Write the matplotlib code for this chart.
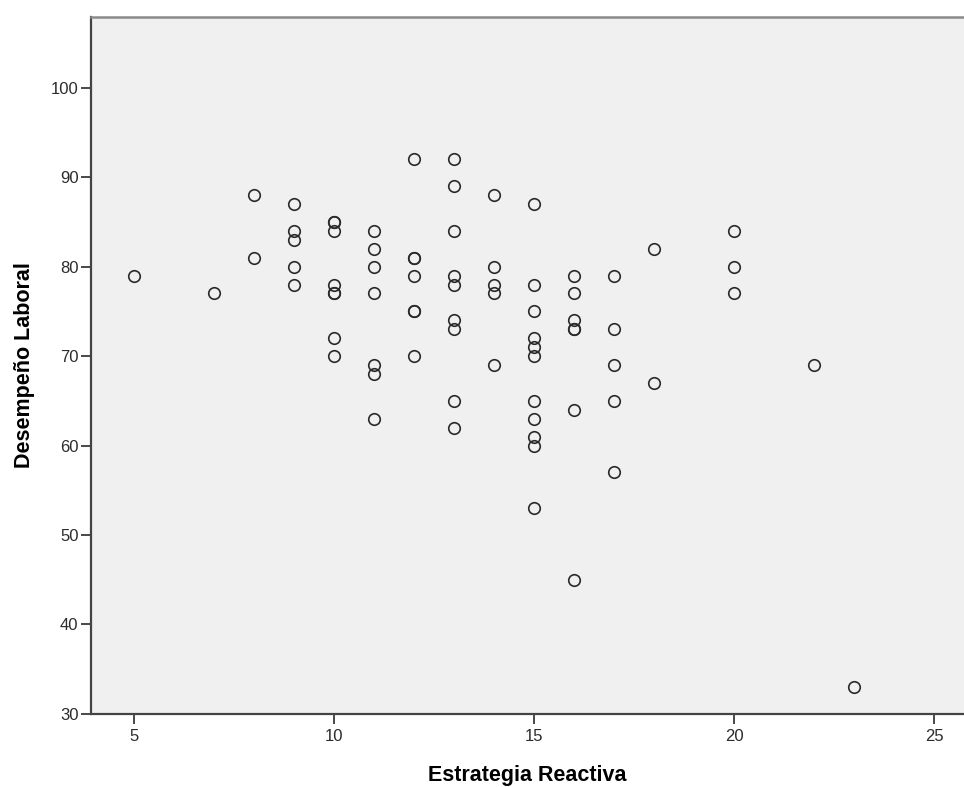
import matplotlib
matplotlib.use('Agg')
import matplotlib.pyplot as plt
import numpy as np

plt.rcParams['font.family'] = ['Liberation Sans', 'DejaVu Sans']

# Estrategia Reactiva (x) vs Desempeño Laboral (y)
estrategia = [5, 7, 8, 8,
              9, 9, 9, 9, 9,
              10, 10, 10, 10, 10, 10, 10, 10,
              11, 11, 11, 11, 11, 11, 11,
              12, 12, 12, 12, 12, 12, 12,
              13, 13, 13, 13, 13, 13, 13, 13, 13,
              14, 14, 14, 14, 14,
              15, 15, 15, 15, 15, 15, 15, 15, 15, 15, 15,
              16, 16, 16, 16, 16, 16, 16,
              17, 17, 17, 17, 17,
              18, 18, 20, 20, 20, 22, 23]
desempeno = [79, 77, 88, 81,
             87, 84, 83, 80, 78,
             85, 85, 84, 78, 77, 77, 72, 70,
             84, 82, 80, 77, 69, 68, 63,
             92, 81, 81, 79, 75, 75, 70,
             92, 89, 84, 79, 78, 74, 73, 65, 62,
             88, 80, 78, 77, 69,
             87, 78, 75, 72, 71, 70, 65, 63, 61, 60, 53,
             79, 77, 74, 73, 73, 64, 45,
             79, 73, 69, 65, 57,
             82, 67, 84, 80, 77, 69, 33]

x_ticks = [5, 10, 15, 20, 25]
y_ticks = [30, 40, 50, 60, 70, 80, 90, 100]

fig = plt.figure(figsize=(9.64, 7.87), dpi=100)
ax = fig.add_axes([0.0944, 0.0928, 0.9056, 0.8856])
ax.set_facecolor('#f0f0f0')

ax.plot(estrategia, desempeno, 'o', linestyle='none', markersize=8.3,
        markerfacecolor='none', markeredgecolor='#2a2a2a',
        markeredgewidth=1.2)

ax.set_xlim(3.93, 25.75)
ax.set_ylim(30, 107.9)
ax.set_xticks(x_ticks)
ax.set_yticks(y_ticks)
ax.tick_params(direction='out', length=7.5, width=1.3, color='#3a3a3a',
               labelsize=12, labelcolor='#2b2b2b')
ax.tick_params(axis='x', pad=3.5)
ax.tick_params(axis='y', pad=1.5)

for side in ['left', 'bottom']:
    ax.spines[side].set_color('#444444')
    ax.spines[side].set_linewidth(1.6)
ax.spines['top'].set_color('#8a8a8a')
ax.spines['top'].set_linewidth(1.8)
ax.spines['right'].set_visible(False)

ax.set_xlabel('Estrategia Reactiva', fontsize=15.5, fontweight='bold',
              labelpad=15)
ax.set_ylabel('Desempeño Laboral', fontsize=15.5, fontweight='bold',
              labelpad=11)

fig.savefig('out.png', dpi=100)
